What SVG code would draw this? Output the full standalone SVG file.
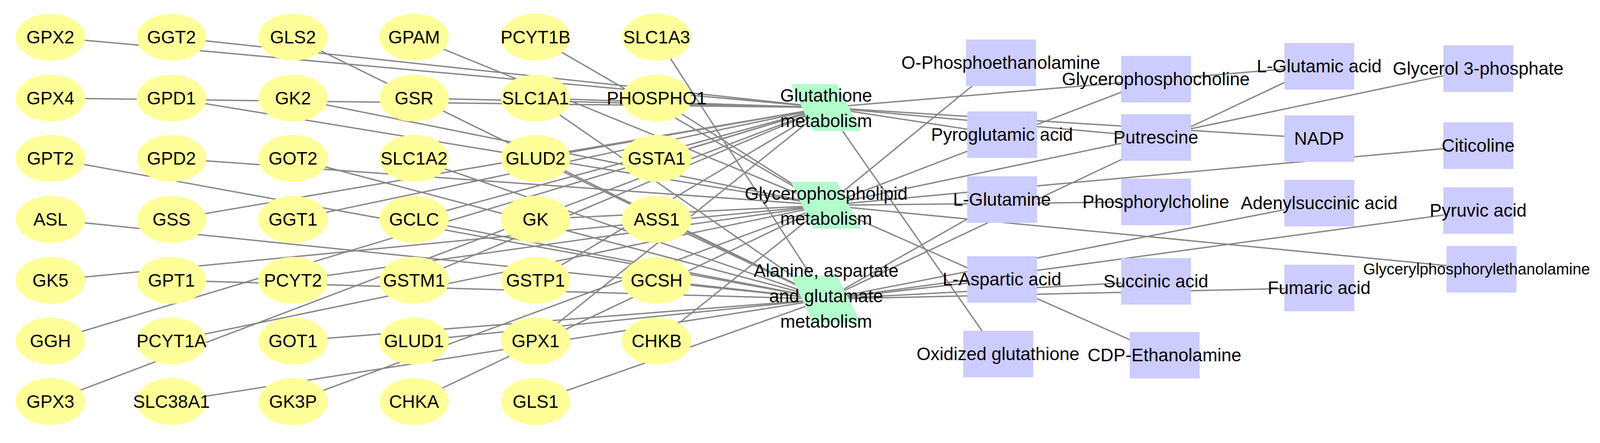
<svg xmlns="http://www.w3.org/2000/svg" width="4172" height="1133" viewBox="0 0 4172 1133">
<style>
.e line{stroke:#888;stroke-width:3.5}
.g ellipse{fill:#ffff99}
.m rect{fill:#ccccff}
.p polygon{fill:#b3fccc}
text{font-family:"Liberation Sans",Arial,sans-serif;font-size:46px;fill:#000;text-anchor:middle;dominant-baseline:central}
</style>
<rect width="4172" height="1133" fill="#fff"/>
<g id="connectors" class="e">
<line x1="129" y1="95" x2="2115" y2="275"/>
<line x1="439" y1="95" x2="2115" y2="275"/>
<line x1="750" y1="95" x2="2115" y2="765"/>
<line x1="1060" y1="95" x2="2115" y2="525"/>
<line x1="1371" y1="95" x2="2115" y2="525"/>
<line x1="1681" y1="95" x2="2115" y2="765"/>
<line x1="129" y1="251" x2="2115" y2="275"/>
<line x1="439" y1="251" x2="2115" y2="525"/>
<line x1="750" y1="251" x2="2115" y2="525"/>
<line x1="1060" y1="251" x2="2115" y2="275"/>
<line x1="1371" y1="251" x2="2115" y2="765"/>
<line x1="1371" y1="251" x2="2115" y2="275"/>
<line x1="1681" y1="251" x2="2115" y2="525"/>
<line x1="129" y1="405" x2="2115" y2="765"/>
<line x1="439" y1="405" x2="2115" y2="525"/>
<line x1="750" y1="405" x2="2115" y2="765"/>
<line x1="1060" y1="405" x2="2115" y2="765"/>
<line x1="1371" y1="405" x2="2115" y2="765"/>
<line x1="1371" y1="405" x2="2115" y2="275"/>
<line x1="1681" y1="405" x2="2115" y2="275"/>
<line x1="129" y1="561" x2="2115" y2="765"/>
<line x1="439" y1="561" x2="2115" y2="275"/>
<line x1="750" y1="561" x2="2115" y2="275"/>
<line x1="1060" y1="561" x2="2115" y2="275"/>
<line x1="1060" y1="561" x2="2115" y2="765"/>
<line x1="1371" y1="561" x2="2115" y2="525"/>
<line x1="1681" y1="561" x2="2115" y2="765"/>
<line x1="129" y1="717" x2="2115" y2="525"/>
<line x1="439" y1="717" x2="2115" y2="765"/>
<line x1="750" y1="717" x2="2115" y2="525"/>
<line x1="1060" y1="717" x2="2115" y2="275"/>
<line x1="1371" y1="717" x2="2115" y2="275"/>
<line x1="1681" y1="717" x2="2115" y2="765"/>
<line x1="129" y1="872" x2="2115" y2="275"/>
<line x1="439" y1="872" x2="2115" y2="525"/>
<line x1="750" y1="872" x2="2115" y2="765"/>
<line x1="1060" y1="872" x2="2115" y2="765"/>
<line x1="1371" y1="872" x2="2115" y2="275"/>
<line x1="1681" y1="872" x2="2115" y2="525"/>
<line x1="129" y1="1027" x2="2115" y2="275"/>
<line x1="439" y1="1027" x2="2115" y2="765"/>
<line x1="750" y1="1027" x2="2115" y2="525"/>
<line x1="1060" y1="1027" x2="2115" y2="525"/>
<line x1="1371" y1="1027" x2="2115" y2="765"/>
<line x1="2115" y1="275" x2="2565" y2="344"/>
<line x1="2115" y1="275" x2="2959" y2="351"/>
<line x1="2115" y1="275" x2="3377" y2="354"/>
<line x1="2115" y1="275" x2="3377" y2="169"/>
<line x1="2115" y1="275" x2="2555" y2="905"/>
<line x1="2115" y1="525" x2="2562" y2="160"/>
<line x1="2115" y1="525" x2="2959" y2="202"/>
<line x1="2115" y1="525" x2="3784" y2="175"/>
<line x1="2115" y1="525" x2="2959" y2="516"/>
<line x1="2115" y1="525" x2="3784" y2="372"/>
<line x1="2115" y1="525" x2="2981" y2="908"/>
<line x1="2115" y1="525" x2="3792" y2="688"/>
<line x1="2115" y1="765" x2="2565" y2="510"/>
<line x1="2115" y1="765" x2="2565" y2="714"/>
<line x1="2115" y1="765" x2="3377" y2="169"/>
<line x1="2115" y1="765" x2="3377" y2="519"/>
<line x1="2115" y1="765" x2="3784" y2="538"/>
<line x1="2115" y1="765" x2="2959" y2="719"/>
<line x1="2115" y1="765" x2="3377" y2="736"/>
</g>
<g id="GPX2" class="g"><ellipse cx="129" cy="95" rx="89" ry="60"/><text x="129" y="95">GPX2</text></g>
<g id="GGT2" class="g"><ellipse cx="439" cy="95" rx="89" ry="60"/><text x="439" y="95">GGT2</text></g>
<g id="GLS2" class="g"><ellipse cx="750" cy="95" rx="89" ry="60"/><text x="750" y="95">GLS2</text></g>
<g id="GPAM" class="g"><ellipse cx="1060" cy="95" rx="89" ry="60"/><text x="1060" y="95">GPAM</text></g>
<g id="PCYT1B" class="g"><ellipse cx="1371" cy="95" rx="89" ry="60"/><text x="1371" y="95">PCYT1B</text></g>
<g id="SLC1A3" class="g"><ellipse cx="1681" cy="95" rx="89" ry="60"/><text x="1681" y="95">SLC1A3</text></g>
<g id="GPX4" class="g"><ellipse cx="129" cy="251" rx="89" ry="60"/><text x="129" y="251">GPX4</text></g>
<g id="GPD1" class="g"><ellipse cx="439" cy="251" rx="89" ry="60"/><text x="439" y="251">GPD1</text></g>
<g id="GK2" class="g"><ellipse cx="750" cy="251" rx="89" ry="60"/><text x="750" y="251">GK2</text></g>
<g id="GSR" class="g"><ellipse cx="1060" cy="251" rx="89" ry="60"/><text x="1060" y="251">GSR</text></g>
<g id="SLC1A1" class="g"><ellipse cx="1371" cy="251" rx="89" ry="60"/><text x="1371" y="251">SLC1A1</text></g>
<g id="PHOSPHO1" class="g"><ellipse cx="1681" cy="251" rx="89" ry="60"/><text x="1681" y="251">PHOSPHO1</text></g>
<g id="GPT2" class="g"><ellipse cx="129" cy="405" rx="89" ry="60"/><text x="129" y="405">GPT2</text></g>
<g id="GPD2" class="g"><ellipse cx="439" cy="405" rx="89" ry="60"/><text x="439" y="405">GPD2</text></g>
<g id="GOT2" class="g"><ellipse cx="750" cy="405" rx="89" ry="60"/><text x="750" y="405">GOT2</text></g>
<g id="SLC1A2" class="g"><ellipse cx="1060" cy="405" rx="89" ry="60"/><text x="1060" y="405">SLC1A2</text></g>
<g id="GLUD2" class="g"><ellipse cx="1371" cy="405" rx="89" ry="60"/><text x="1371" y="405">GLUD2</text></g>
<g id="GSTA1" class="g"><ellipse cx="1681" cy="405" rx="89" ry="60"/><text x="1681" y="405">GSTA1</text></g>
<g id="ASL" class="g"><ellipse cx="129" cy="561" rx="89" ry="60"/><text x="129" y="561">ASL</text></g>
<g id="GSS" class="g"><ellipse cx="439" cy="561" rx="89" ry="60"/><text x="439" y="561">GSS</text></g>
<g id="GGT1" class="g"><ellipse cx="750" cy="561" rx="89" ry="60"/><text x="750" y="561">GGT1</text></g>
<g id="GCLC" class="g"><ellipse cx="1060" cy="561" rx="89" ry="60"/><text x="1060" y="561">GCLC</text></g>
<g id="GK" class="g"><ellipse cx="1371" cy="561" rx="89" ry="60"/><text x="1371" y="561">GK</text></g>
<g id="ASS1" class="g"><ellipse cx="1681" cy="561" rx="89" ry="60"/><text x="1681" y="561">ASS1</text></g>
<g id="GK5" class="g"><ellipse cx="129" cy="717" rx="89" ry="60"/><text x="129" y="717">GK5</text></g>
<g id="GPT1" class="g"><ellipse cx="439" cy="717" rx="89" ry="60"/><text x="439" y="717">GPT1</text></g>
<g id="PCYT2" class="g"><ellipse cx="750" cy="717" rx="89" ry="60"/><text x="750" y="717">PCYT2</text></g>
<g id="GSTM1" class="g"><ellipse cx="1060" cy="717" rx="89" ry="60"/><text x="1060" y="717">GSTM1</text></g>
<g id="GSTP1" class="g"><ellipse cx="1371" cy="717" rx="89" ry="60"/><text x="1371" y="717">GSTP1</text></g>
<g id="GCSH" class="g"><ellipse cx="1681" cy="717" rx="89" ry="60"/><text x="1681" y="717">GCSH</text></g>
<g id="GGH" class="g"><ellipse cx="129" cy="872" rx="89" ry="60"/><text x="129" y="872">GGH</text></g>
<g id="PCYT1A" class="g"><ellipse cx="439" cy="872" rx="89" ry="60"/><text x="439" y="872">PCYT1A</text></g>
<g id="GOT1" class="g"><ellipse cx="750" cy="872" rx="89" ry="60"/><text x="750" y="872">GOT1</text></g>
<g id="GLUD1" class="g"><ellipse cx="1060" cy="872" rx="89" ry="60"/><text x="1060" y="872">GLUD1</text></g>
<g id="GPX1" class="g"><ellipse cx="1371" cy="872" rx="89" ry="60"/><text x="1371" y="872">GPX1</text></g>
<g id="CHKB" class="g"><ellipse cx="1681" cy="872" rx="89" ry="60"/><text x="1681" y="872">CHKB</text></g>
<g id="GPX3" class="g"><ellipse cx="129" cy="1027" rx="89" ry="60"/><text x="129" y="1027">GPX3</text></g>
<g id="SLC38A1" class="g"><ellipse cx="439" cy="1027" rx="89" ry="60"/><text x="439" y="1027">SLC38A1</text></g>
<g id="GK3P" class="g"><ellipse cx="750" cy="1027" rx="89" ry="60"/><text x="750" y="1027">GK3P</text></g>
<g id="CHKA" class="g"><ellipse cx="1060" cy="1027" rx="89" ry="60"/><text x="1060" y="1027">CHKA</text></g>
<g id="GLS1" class="g"><ellipse cx="1371" cy="1027" rx="89" ry="60"/><text x="1371" y="1027">GLS1</text></g>
<g id="Glutathione" class="p"><polygon points="2025,215 2143,215 2204,335 2081,335"/><text x="2115" y="244">Glutathione</text><text x="2115" y="309">metabolism</text></g>
<g id="Glycerophospholipid" class="p"><polygon points="2025,465 2143,465 2204,585 2081,585"/><text x="2115" y="495">Glycerophospholipid</text><text x="2115" y="559">metabolism</text></g>
<g id="Alanine" class="p"><polygon points="2025,705 2143,705 2204,825 2081,825"/><text x="2115" y="692">Alanine, aspartate</text><text x="2115" y="757">and glutamate</text><text x="2115" y="822">metabolism</text></g>
<g id="OPhosphoethanolamine" class="m"><rect x="2473" y="101" width="179" height="119"/><text x="2562" y="160">O-Phosphoethanolamine</text></g>
<g id="Pyroglutamic" class="m"><rect x="2476" y="285" width="179" height="119"/><text x="2565" y="344">Pyroglutamic acid</text></g>
<g id="LGlutamine" class="m"><rect x="2476" y="451" width="179" height="119"/><text x="2565" y="510">L-Glutamine</text></g>
<g id="LAspartic" class="m"><rect x="2476" y="655" width="179" height="119"/><text x="2565" y="714">L-Aspartic acid</text></g>
<g id="OxidizedGlutathione" class="m"><rect x="2466" y="846" width="179" height="119"/><text x="2555" y="905">Oxidized glutathione</text></g>
<g id="Glycerophosphocholine" class="m"><rect x="2870" y="143" width="179" height="119"/><text x="2959" y="202">Glycerophosphocholine</text></g>
<g id="Putrescine" class="m"><rect x="2870" y="292" width="179" height="119"/><text x="2959" y="351">Putrescine</text></g>
<g id="Phosphorylcholine" class="m"><rect x="2870" y="457" width="179" height="119"/><text x="2959" y="516">Phosphorylcholine</text></g>
<g id="Succinic" class="m"><rect x="2870" y="660" width="179" height="119"/><text x="2959" y="719">Succinic acid</text></g>
<g id="CDPEthanolamine" class="m"><rect x="2892" y="849" width="179" height="119"/><text x="2981" y="908">CDP-Ethanolamine</text></g>
<g id="LGlutamic" class="m"><rect x="3288" y="110" width="179" height="119"/><text x="3377" y="169">L-Glutamic acid</text></g>
<g id="NADP" class="m"><rect x="3288" y="295" width="179" height="119"/><text x="3377" y="354">NADP</text></g>
<g id="Adenylsuccinic" class="m"><rect x="3288" y="460" width="179" height="119"/><text x="3377" y="519">Adenylsuccinic acid</text></g>
<g id="Fumaric" class="m"><rect x="3288" y="677" width="179" height="119"/><text x="3377" y="736">Fumaric acid</text></g>
<g id="Glycerol3P" class="m"><rect x="3695" y="116" width="179" height="119"/><text x="3784" y="175">Glycerol 3-phosphate</text></g>
<g id="Citicoline" class="m"><rect x="3695" y="313" width="179" height="119"/><text x="3784" y="372">Citicoline</text></g>
<g id="Pyruvic" class="m"><rect x="3695" y="479" width="179" height="119"/><text x="3784" y="538">Pyruvic acid</text></g>
<g id="GPE" class="m"><rect x="3703" y="629" width="179" height="119"/><text x="3780" y="688" style="font-size:40px">Glycerylphosphorylethanolamine</text></g>
</svg>
